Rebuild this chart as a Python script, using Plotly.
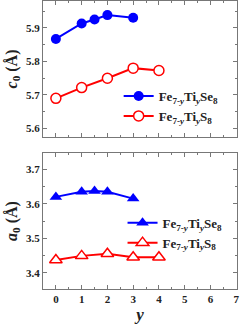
import plotly.graph_objects as go
from plotly.subplots import make_subplots

y_se = [0, 1, 1.5, 2, 3]
c_se = [5.867, 5.913, 5.925, 5.938, 5.930]
y_s = [0, 1, 2, 3, 4]
c_s = [5.690, 5.722, 5.750, 5.780, 5.773]
a_se = [3.620, 3.635, 3.637, 3.635, 3.615]
a_s = [3.437, 3.449, 3.455, 3.445, 3.445]
x_ticks = [0, 1, 2, 3, 4, 5, 6, 7]

name_se = "Fe<sub>7-<i>y</i></sub>Ti<sub><i>y</i></sub>Se<sub>8</sub>"
name_s = "Fe<sub>7-<i>y</i></sub>Ti<sub><i>y</i></sub>S<sub>8</sub>"

BLUE = "#0000FF"
RED = "#FF0000"
FONT = "Liberation Serif"

fig = make_subplots(rows=2, cols=1, shared_xaxes=False, vertical_spacing=0.056)

fig.add_trace(go.Scatter(x=y_se, y=c_se, mode="lines+markers", name=name_se,
                         line=dict(color=BLUE, width=2),
                         marker=dict(symbol="circle", size=10, color=BLUE),
                         legend="legend"), row=1, col=1)
fig.add_trace(go.Scatter(x=y_s, y=c_s, mode="lines+markers", name=name_s,
                         line=dict(color=RED, width=2),
                         marker=dict(symbol="circle", size=10, color="white",
                                     line=dict(color=RED, width=1.5)),
                         legend="legend"), row=1, col=1)
fig.add_trace(go.Scatter(x=y_se, y=a_se, mode="lines+markers", name=name_se,
                         line=dict(color=BLUE, width=2),
                         marker=dict(symbol="triangle-up", size=11, color=BLUE),
                         legend="legend2"), row=2, col=1)
fig.add_trace(go.Scatter(x=y_s, y=a_s, mode="lines+markers", name=name_s,
                         line=dict(color=RED, width=2),
                         marker=dict(symbol="triangle-up", size=11, color="white",
                                     line=dict(color=RED, width=1.5)),
                         legend="legend2"), row=2, col=1)

axis_common = dict(showline=True, mirror="allticks", linecolor="#777", linewidth=1,
                   ticks="inside", ticklen=4, tickcolor="#777", showgrid=False,
                   zeroline=False,
                   tickfont=dict(family=FONT, size=11, color="#222"))

fig.update_xaxes(**axis_common, range=[-0.5, 7.03], tickvals=x_ticks,
                 minor=dict(ticks="inside", ticklen=2, dtick=0.5, tickcolor="#777"))
fig.update_xaxes(showticklabels=False, row=1, col=1)
fig.update_xaxes(title=dict(text="<b><i>y</i></b>", font=dict(family=FONT, size=17, color="#222"),
                             standoff=0), row=2, col=1)

fig.update_yaxes(**axis_common)
fig.update_yaxes(range=[5.575, 5.98], dtick=0.1, tickformat=".1f",
                 minor=dict(ticks="inside", ticklen=2, dtick=0.05, tickcolor="#777"),
                 title=dict(text="<b><i>c</i><sub>0</sub> (Å)</b>", font=dict(family=FONT, size=16, color="#222"),
                            standoff=4), row=1, col=1)
fig.update_yaxes(range=[3.353, 3.747], dtick=0.1, tickformat=".1f",
                 minor=dict(ticks="inside", ticklen=2, dtick=0.05, tickcolor="#777"),
                 title=dict(text="<b><i>a</i><sub>0</sub> (Å)</b>", font=dict(family=FONT, size=16, color="#222"),
                            standoff=4), row=2, col=1)

leg_font = dict(family=FONT, size=13, color="#222", weight="bold")
fig.update_layout(
    width=241, height=327,
    margin=dict(l=43, r=4, t=1, b=38),
    plot_bgcolor="white", paper_bgcolor="white",
    font=dict(family=FONT, weight="bold"),
    legend=dict(x=0.39, y=0.722, xanchor="left", yanchor="top", bgcolor="rgba(0,0,0,0)",
                font=leg_font, tracegroupgap=0, itemwidth=30),
    legend2=dict(x=0.41, y=0.282, xanchor="left", yanchor="top", bgcolor="rgba(0,0,0,0)",
                 font=leg_font, tracegroupgap=0, itemwidth=30),
)

fig.write_html("out.html", config={"displayModeBar": False},
               post_script="document.body.style.margin='0';document.body.style.overflow='hidden';")
